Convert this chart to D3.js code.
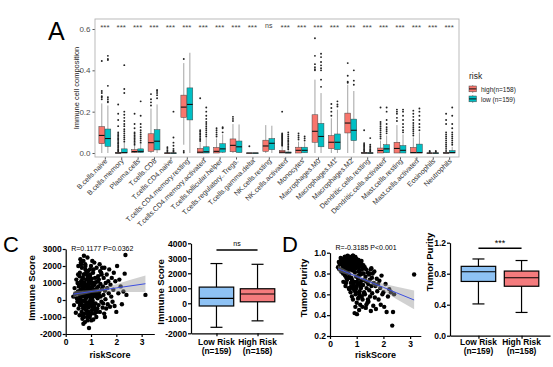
<!DOCTYPE html>
<html>
<head>
<meta charset="utf-8">
<script src="https://cdn.jsdelivr.net/npm/d3@7"></script>
<style>
  body { margin: 0; background: #fff; }
  svg { display: block; }
  text { font-family: Arial, "Liberation Sans", sans-serif; }
</style>
</head>
<body>
<svg id="fig" width="553" height="367"></svg>
<script>
// ---- panel A data: box stats are [lower whisker, q1, median, q3, upper whisker]
const cellTypes = ['B.cells.naive', 'B.cells.memory', 'Plasma.cells', 'T.cells.CD8', 'T.cells.CD4.naive',
    'T.cells.CD4.memory.resting', 'T.cells.CD4.memory.activated', 'T.cells.follicular.helper',
    'T.cells.regulatory..Tregs.', 'T.cells.gamma.delta', 'NK.cells.resting', 'NK.cells.activated',
    'Monocytes', 'Macrophages.M0', 'Macrophages.M1', 'Macrophages.M2', 'Dendritic.cells.resting',
    'Dendritic.cells.activated', 'Mast.cells.resting', 'Mast.cells.activated', 'Eosinophils', 'Neutrophils'];
const sigLabels = ['***', '***', '***', '***', '***', '***', '***', '***', '***', '***', 'ns',
    '***', '***', '***', '***', '***', '***', '***', '***', '***', '***', '***'];
const riskGroups = ['high(n=158)', 'low (n=159)'];
const highStats = [
    [0, 0.045, 0.085, 0.128, 0.24], [0, 0, 0, 0.002, 0.004], [0, 0.002, 0.007, 0.016, 0.036],
    [0, 0.008, 0.05, 0.093, 0.215], [0, 0, 0, 0, 0], [0.04, 0.172, 0.222, 0.28, 0.435],
    [0, 0, 0.004, 0.022, 0.052], [0, 0, 0.008, 0.027, 0.07], [0, 0.006, 0.037, 0.068, 0.14],
    [0, 0, 0, 0, 0], [0, 0.008, 0.034, 0.062, 0.135], [0, 0, 0.004, 0.013, 0.03],
    [0, 0, 0.013, 0.028, 0.055], [0, 0.052, 0.105, 0.185, 0.355], [0, 0.021, 0.052, 0.084, 0.168],
    [0, 0.097, 0.145, 0.193, 0.33], [0, 0, 0, 0.002, 0.004], [0, 0, 0.012, 0.024, 0.06],
    [0, 0, 0.022, 0.052, 0.135], [0, 0, 0.002, 0.027, 0.075], [0, 0, 0, 0, 0], [0, 0, 0, 0.002, 0.004]];
const lowStats = [
    [0, 0.032, 0.07, 0.116, 0.23], [0, 0, 0.002, 0.02, 0.05], [0, 0.002, 0.008, 0.02, 0.045],
    [0, 0.015, 0.057, 0.113, 0.235], [0, 0, 0, 0, 0], [0, 0.16, 0.235, 0.315, 0.485],
    [0, 0, 0.006, 0.03, 0.072], [0, 0.004, 0.02, 0.045, 0.09], [0, 0.002, 0.03, 0.058, 0.138],
    [0, 0, 0, 0, 0], [0, 0.016, 0.047, 0.07, 0.132], [0, 0, 0.001, 0.005, 0.012],
    [0, 0.001, 0.013, 0.028, 0.052], [0, 0.03, 0.08, 0.143, 0.29], [0, 0.016, 0.052, 0.092, 0.21],
    [0, 0.06, 0.11, 0.164, 0.3], [0, 0, 0, 0.001, 0.003], [0, 0.001, 0.02, 0.04, 0.085],
    [0, 0, 0.013, 0.036, 0.09], [0, 0, 0.002, 0.043, 0.1], [0, 0, 0, 0, 0], [0, 0, 0.002, 0.012, 0.03]];
const highOutliers = [
    [0.26, 0.27, 0.275, 0.29, 0.30, 0.445],
    [0.008, 0.012, 0.018, 0.025, 0.03, 0.038, 0.045, 0.05, 0.058, 0.065, 0.07, 0.078, 0.085, 0.092, 0.1, 0.13, 0.16, 0.19, 0.235],
    [0.04, 0.048, 0.055, 0.063, 0.07, 0.078, 0.085, 0.093, 0.1, 0.12, 0.14, 0.19],
    [0.23, 0.245, 0.26, 0.285],
    [0.005, 0.012, 0.02, 0.028],
    [0.455, 0.01, 0.002],
    [0.058, 0.065, 0.072, 0.08, 0.088, 0.095, 0.103, 0.11, 0.265],
    [0.08, 0.09, 0.1, 0.11, 0.12],
    [0.155, 0.165, 0.175],
    [0.033],
    [],
    [0.035, 0.04, 0.045, 0.05, 0.055, 0.06, 0.065, 0.07, 0.075, 0.08, 0.085, 0.09, 0.095, 0.2],
    [0.065, 0.075, 0.085, 0.095],
    [0.4, 0.405, 0.415, 0.43, 0.47, 0.555],
    [0.18, 0.2, 0.218, 0.237],
    [0.34, 0.345, 0.374, 0.435],
    [0.008, 0.013, 0.018, 0.024, 0.03, 0.036, 0.042, 0.048, 0.11],
    [0.07, 0.08, 0.09, 0.1, 0.11, 0.12, 0.13, 0.14, 0.15, 0.22],
    [0.155, 0.17, 0.19, 0.2, 0.21],
    [0.085, 0.095, 0.105, 0.115, 0.125, 0.135, 0.145, 0.16, 0.175, 0.19, 0.205],
    [0.005, 0.01],
    [0.01, 0.02, 0.03, 0.04, 0.05, 0.06, 0.07, 0.08, 0.09, 0.1, 0.14, 0.16, 0.19]];
const lowOutliers = [
    [0.245, 0.25, 0.26, 0.27, 0.325, 0.45, 0.455, 0.47],
    [0.055, 0.065, 0.075, 0.085, 0.095, 0.105, 0.115, 0.13, 0.14, 0.155, 0.17, 0.185, 0.2, 0.29, 0.31, 0.425],
    [0.05, 0.06, 0.07, 0.08, 0.09, 0.1, 0.11, 0.125, 0.14, 0.18, 0.25],
    [0.265, 0.28, 0.29, 0.3, 0.305],
    [0.006, 0.012, 0.02, 0.035, 0.05, 0.075, 0.2],
    [],
    [0.08, 0.09, 0.1, 0.11, 0.12, 0.13, 0.14, 0.15, 0.165, 0.18, 0.2, 0.22],
    [0.1, 0.12, 0.125],
    [],
    [],
    [],
    [0.018, 0.025, 0.032, 0.04, 0.048, 0.055, 0.062, 0.07, 0.08, 0.09, 0.1],
    [0.06, 0.07, 0.08],
    [0.32, 0.355, 0.4, 0.41, 0.424, 0.44, 0.464, 0.48],
    [0.225, 0.235, 0.25],
    [0.33, 0.35, 0.4],
    [0.007, 0.012, 0.018, 0.025, 0.032, 0.04, 0.072],
    [0.095, 0.105, 0.115, 0.125, 0.14, 0.16, 0.2, 0.22],
    [0.1, 0.11, 0.125, 0.14, 0.16, 0.18, 0.2, 0.21],
    [0.11, 0.125, 0.14, 0.16, 0.18, 0.2, 0.215],
    [0.005, 0.01],
    [0.04, 0.05, 0.06, 0.07, 0.08, 0.09, 0.1, 0.12, 0.14, 0.18, 0.22]];

// ---- panels C / D data (one entry per sample)
const riskScore = [
    0.30, 0.33, 0.35, 0.37, 0.40, 0.42, 0.44, 0.46, 0.48, 0.50,
    0.51, 0.52, 0.54, 0.55, 0.56, 0.57, 0.58, 0.59, 0.60, 0.61,
    0.62, 0.63, 0.64, 0.65, 0.66, 0.67, 0.68, 0.69, 0.70, 0.70,
    0.71, 0.72, 0.73, 0.74, 0.75, 0.76, 0.77, 0.78, 0.79, 0.80,
    0.80, 0.81, 0.82, 0.83, 0.84, 0.85, 0.86, 0.87, 0.88, 0.89,
    0.90, 0.90, 0.91, 0.92, 0.93, 0.94, 0.95, 0.96, 0.97, 0.98,
    0.99, 1.00, 1.00, 1.01, 1.02, 1.03, 1.04, 1.05, 1.06, 1.07,
    1.08, 1.09, 1.10, 1.11, 1.12, 1.13, 1.14, 1.15, 1.16, 1.17,
    1.18, 1.19, 1.20, 1.21, 1.22, 1.24, 1.25, 1.26, 1.28, 1.29,
    1.30, 1.31, 1.33, 1.34, 1.35, 1.37, 1.38, 1.40, 1.41, 1.43,
    1.44, 1.46, 1.47, 1.49, 1.50, 1.52, 1.53, 1.55, 1.57, 1.58,
    1.60, 1.62, 1.64, 1.66, 1.68, 1.70, 1.72, 1.75, 1.77, 1.80,
    1.82, 1.85, 1.88, 1.90, 1.93, 1.96, 2.00, 2.03, 2.08, 2.12,
    2.17, 2.22, 2.28, 2.33, 2.36, 2.40, 3.15,
    0.55, 0.63, 0.68, 0.72, 0.76, 0.83, 0.88, 0.94, 1.02, 1.08,
    0.58, 0.66, 0.74, 0.81, 0.86, 0.92, 0.98, 1.05, 1.12, 1.20,
    0.47, 0.61, 0.70, 0.78, 0.85, 0.91, 0.97, 1.03, 1.10, 1.15,
    0.52, 0.57, 0.64, 0.69, 0.73, 0.79, 0.84, 0.89, 0.95, 1.00,
    0.54, 0.60, 0.67, 0.71, 0.77, 0.82, 0.87, 0.93, 0.99, 1.06,
    0.64, 0.72, 0.80, 0.87, 0.96, 1.04, 1.13, 1.23, 1.32, 1.42,
    0.66, 0.75, 0.84, 0.92, 1.01, 1.09, 1.18, 1.27, 1.36, 1.48,
    0.41, 0.49, 0.56, 0.63, 0.78, 0.86, 0.95, 1.14, 1.23, 1.55];
const immuneScore = [
    200, -300, 700, 350, -750, 1200, 100, -100, 500, 2000,
    -500, 900, 300, -900, 1600, 50, 2400, 600, -200, 1100,
    400, -700, 1900, 800, -1100, 200, 1300, -400, 2300, 700,
    -50, 1500, -800, 350, 1000, -1300, 2100, 550, -300, 1200,
    100, -600, 1700, 900, 300, -1000, 2500, 650, -150, 1400,
    450, -450, 1100, -1650, 750, 200, -900, 1800, 0, 1000,
    -250, 600, 2000, -1200, 350, 1250, -600, 850, 150, -50,
    1600, -1150, 500, 900, -400, 2200, 250, -800, 1300, 600,
    -200, 1050, 350, -1000, 1900, 700, -500, 100, 1400, 800,
    -300, 1200, 500, 2100, -700, 950, 200, 1600, -100, 650,
    1900, -450, 800, 300, 1300, -800, 1900, 550, 50, 1000,
    -500, 1500, 700, -250, 1100, 400, 1800, -400, 900, 200,
    1300, -100, 600, 1600, -350, 1100, -700, 2000, 400, 1200,
    800, -250, 500, 1550, 2650, 300, 300,
    1400, -50, 900, 2600, 450, -350, 1700, 300, -800, 1000,
    150, 1250, -450, 800, -1200, 1300, 550, 2300, -250, 400,
    1000, 2100, -1400, 1800, 700, -700, 1500, -150, 1800, -550,
    800, -150, 1100, -500, 1500, 300, -200, 900, -1000, 200,
    500, 2200, -900, 1000, -100, 1600, 400, -300, 1200, 700,
    600, -1000, 150, 1300, 500, -400, 900, -700, 300, 1500,
    -300, 800, 1500, -150, 1000, 300, -600, 1100, 1700, -200,
    400, 1500, -300, 1000, 2000, -800, 1400, 1000, 200, -1000];
const tumorPurity = [
    0.86, 0.91, 0.84, 0.89, 0.95, 0.82, 0.90, 0.93, 0.87, 0.72,
    0.94, 0.85, 0.92, 0.96, 0.78, 0.91, 0.68, 0.88, 0.93, 0.83,
    0.89, 0.95, 0.74, 0.86, 0.97, 0.90, 0.80, 0.93, 0.66, 0.87,
    0.92, 0.79, 0.95, 0.88, 0.84, 0.96, 0.62, 0.88, 0.93, 0.76,
    0.90, 0.94, 0.58, 0.83, 0.89, 0.96, 0.55, 0.86, 0.92, 0.72,
    0.87, 0.95, 0.64, 0.42, 0.81, 0.91, 0.48, 0.60, 0.93, 0.77,
    0.94, 0.68, 0.52, 0.41, 0.88, 0.70, 0.90, 0.75, 0.86, 0.93,
    0.57, 0.45, 0.82, 0.63, 0.91, 0.50, 0.79, 0.87, 0.66, 0.73,
    0.92, 0.58, 0.84, 0.48, 0.55, 0.69, 0.88, 0.80, 0.62, 0.74,
    0.86, 0.60, 0.77, 0.47, 0.84, 0.66, 0.72, 0.52, 0.81, 0.70,
    0.53, 0.79, 0.64, 0.74, 0.58, 0.84, 0.44, 0.68, 0.76, 0.61,
    0.80, 0.49, 0.71, 0.82, 0.57, 0.68, 0.46, 0.75, 0.63, 0.70,
    0.55, 0.73, 0.66, 0.50, 0.78, 0.60, 0.62, 0.48, 0.70, 0.43,
    0.58, 0.65, 0.62, 0.30, 0.43, 0.60, 0.79,
    0.81, 0.90, 0.85, 0.65, 0.91, 0.95, 0.67, 0.87, 0.93, 0.78,
    0.96, 0.83, 0.94, 0.85, 0.97, 0.72, 0.88, 0.56, 0.90, 0.80,
    0.85, 0.76, 0.96, 0.71, 0.84, 0.93, 0.62, 0.91, 0.60, 0.89,
    0.90, 0.94, 0.82, 0.95, 0.76, 0.89, 0.93, 0.83, 0.96, 0.87,
    0.92, 0.71, 0.96, 0.86, 0.91, 0.74, 0.89, 0.94, 0.66, 0.82,
    0.87, 0.96, 0.91, 0.70, 0.85, 0.90, 0.68, 0.86, 0.73, 0.55,
    0.93, 0.85, 0.66, 0.92, 0.72, 0.83, 0.89, 0.61, 0.50, 0.80,
    0.93, 0.80, 0.96, 0.88, 0.67, 0.97, 0.63, 0.71, 0.86, 0.85];

// fitted lines with 95% bands
const fitX = [0.3, 0.6, 1.0, 1.5, 2.0, 2.5, 3.15];
const immuneFit = [345, 410, 495, 602, 710, 817, 957];
const immuneFitLo = [145, 280, 405, 482, 490, 477, 477];
const immuneFitHi = [545, 540, 585, 722, 930, 1157, 1437];
const purityFit = [0.845, 0.814, 0.772, 0.719, 0.667, 0.614, 0.546];
const purityFitLo = [0.815, 0.794, 0.759, 0.699, 0.632, 0.554, 0.456];
const purityFitHi = [0.875, 0.834, 0.785, 0.739, 0.702, 0.674, 0.636];

// group box summaries [min, q1, median, q3, max]
const riskLabels = ['Low Risk', 'High Risk'];
const riskCounts = ['(n=159)', '(n=158)'];
const immuneBox = [[-1600, -180, 330, 1080, 2650], [-1170, 100, 620, 970, 2600]];
const purityBox = [[0.41, 0.70, 0.825, 0.895, 0.99], [0.30, 0.638, 0.748, 0.834, 0.97]];

const svg = d3.select('#fig');
const RED = '#F8766D', TEAL = '#00BFC4';

// ================= Panel A =================
const xA = d3.scalePoint().domain(cellTypes).range([95, 459]).padding(0.6);
const yA = d3.scaleLinear().domain([0, 0.6]).range([153, 29]);

svg.append('text').attr('x', 48).attr('y', 40).attr('font-size', 25).text('A');

svg.append('g').attr('transform', 'translate(95,0)')
    .call(d3.axisLeft(yA).tickValues([0, 0.2, 0.4, 0.6]).tickFormat(d3.format('.1f')).tickSize(2.5).tickPadding(2))
    .call(g => g.select('.domain').remove())
    .call(g => g.selectAll('.tick line').attr('stroke', '#555'))
    .call(g => g.selectAll('text').attr('font-size', 8).attr('fill', '#4d4d4d'));

svg.append('g').attr('transform', 'translate(0,157)')
    .call(d3.axisBottom(xA).tickSize(2.5).tickFormat(''))
    .call(g => g.select('.domain').remove())
    .call(g => g.selectAll('.tick line').attr('stroke', '#555'));

svg.append('text').attr('transform', 'translate(79,88) rotate(-90)').attr('text-anchor', 'middle')
    .attr('font-size', 7.5).attr('fill', '#222').text('Immune cell composition');

svg.append('g').selectAll('text').data(cellTypes).join('text')
    .attr('transform', d => `translate(${xA(d) + 3},161.5) rotate(-45)`)
    .attr('text-anchor', 'end').attr('font-size', 7.1).attr('fill', '#333').text(d => d);

svg.append('g').selectAll('text').data(sigLabels).join('text')
    .attr('x', (d, i) => xA(cellTypes[i])).attr('y', (d) => d === 'ns' ? 27.5 : 30)
    .attr('text-anchor', 'middle').attr('font-size', d => d === 'ns' ? 7 : 8).attr('fill', '#444').text(d => d);

function drawSmallBoxes(stats, outliers, offset, color) {
    const bw = 5.8;
    const g = svg.append('g');
    stats.forEach((s, i) => {
        const cx = xA(cellTypes[i]) + offset;
        g.append('line').attr('x1', cx).attr('x2', cx).attr('y1', yA(s[0])).attr('y2', yA(s[4]))
            .attr('stroke', '#666').attr('stroke-width', 0.6);
        g.append('rect').attr('x', cx - bw / 2).attr('width', bw)
            .attr('y', yA(s[3])).attr('height', Math.max(0.6, yA(s[1]) - yA(s[3])))
            .attr('fill', color).attr('stroke', '#444').attr('stroke-width', 0.5);
        g.append('line').attr('x1', cx - bw / 2).attr('x2', cx + bw / 2).attr('y1', yA(s[2])).attr('y2', yA(s[2]))
            .attr('stroke', '#111').attr('stroke-width', 1.1);
        g.selectAll(null).data(outliers[i]).join('circle')
            .attr('cx', cx).attr('cy', d => yA(d)).attr('r', 0.95).attr('fill', '#222');
    });
}
drawSmallBoxes(highStats, highOutliers, -3.05, RED);
drawSmallBoxes(lowStats, lowOutliers, 3.05, TEAL);

svg.append('rect').attr('x', 95).attr('y', 19).attr('width', 364).attr('height', 138)
    .attr('fill', 'none').attr('stroke', '#b3b3b3').attr('stroke-width', 0.9);

// legend
const leg = svg.append('g').attr('transform', 'translate(469,0)');
leg.append('text').attr('x', 0).attr('y', 79).attr('font-size', 8.5).attr('fill', '#222').text('risk');
riskGroups.forEach((lab, i) => {
    const y0 = 86 + i * 10;
    leg.append('line').attr('x1', 3.7).attr('x2', 3.7).attr('y1', y0 - 1).attr('y2', y0 + 7).attr('stroke', '#666').attr('stroke-width', 0.6);
    leg.append('rect').attr('x', 0).attr('y', y0).attr('width', 7.4).attr('height', 5.8)
        .attr('fill', i === 0 ? RED : TEAL).attr('stroke', '#444').attr('stroke-width', 0.5);
    leg.append('line').attr('x1', 0).attr('x2', 7.4).attr('y1', y0 + 2.9).attr('y2', y0 + 2.9).attr('stroke', '#111').attr('stroke-width', 1);
    leg.append('text').attr('x', 12).attr('y', y0 + 5.6).attr('font-size', 6.5).attr('fill', '#222').text(lab);
});

// ================= helpers for C / D =================
function styleAxis(g) {
    g.select('.domain').attr('stroke', '#000').attr('stroke-width', 1.2);
    g.selectAll('.tick line').attr('stroke', '#000').attr('stroke-width', 1.2);
    g.selectAll('text').attr('font-size', 8.5).attr('font-weight', 'bold').attr('fill', '#000');
}
function yTitle(x, y, label) {
    svg.append('text').attr('transform', `translate(${x},${y}) rotate(-90)`).attr('text-anchor', 'middle')
        .attr('font-size', 9.5).attr('font-weight', 'bold').text(label);
}

function scatterPanel(opts) {
    const x = d3.scaleLinear().domain(opts.xDomain).range(opts.xRange);
    const y = d3.scaleLinear().domain(opts.yDomain).range(opts.yRange);
    const g = svg.append('g');
    g.selectAll('circle').data(riskScore).join('circle')
        .attr('cx', d => x(d)).attr('cy', (d, i) => y(opts.values[i])).attr('r', 2.2).attr('fill', '#000');
    const idx = d3.range(fitX.length);
    g.append('path').datum(idx)
        .attr('d', d3.area().x(i => x(fitX[i])).y0(i => y(opts.lo[i])).y1(i => y(opts.hi[i])))
        .attr('fill', '#999').attr('fill-opacity', 0.45);
    g.append('path').datum(idx)
        .attr('d', d3.line().x(i => x(fitX[i])).y(i => y(opts.fit[i])))
        .attr('fill', 'none').attr('stroke', '#3d4fe0').attr('stroke-width', 1);
    svg.append('g').attr('transform', `translate(0,${opts.yRange[0]})`)
        .call(d3.axisBottom(x).tickValues([0, 1, 2, 3]).tickFormat(d3.format('d')).tickSize(3).tickSizeOuter(0).tickPadding(2)).call(styleAxis);
    svg.append('g').attr('transform', `translate(${opts.xRange[0]},0)`)
        .call(d3.axisLeft(y).tickValues(opts.yTicks).tickFormat(opts.fmt).tickSize(3).tickSizeOuter(0).tickPadding(1)).call(styleAxis);
    svg.append('text').attr('x', (opts.xRange[0] + opts.xRange[1]) / 2).attr('y', 358).attr('text-anchor', 'middle')
        .attr('font-size', 9).attr('font-weight', 'bold').text('riskScore');
    svg.append('text').attr('x', opts.xRange[0] + 5.5).attr('y', opts.statY).attr('font-size', 7).text(opts.stat);
}

function boxPanel(opts) {
    const x = d3.scalePoint().domain(riskLabels).range(opts.xRange).padding(opts.pad);
    const y = d3.scaleLinear().domain(opts.yDomain).range(opts.yRange);
    const bw = 34.5, cap = 12;
    const g = svg.append('g');
    opts.stats.forEach((s, i) => {
        const cx = x(riskLabels[i]);
        g.append('line').attr('x1', cx).attr('x2', cx).attr('y1', y(s[0])).attr('y2', y(s[4])).attr('stroke', '#000').attr('stroke-width', 1.2);
        [s[0], s[4]].forEach(v => g.append('line').attr('x1', cx - cap / 2).attr('x2', cx + cap / 2)
            .attr('y1', y(v)).attr('y2', y(v)).attr('stroke', '#000').attr('stroke-width', 1.2));
        g.append('rect').attr('x', cx - bw / 2).attr('width', bw).attr('y', y(s[3])).attr('height', y(s[1]) - y(s[3]))
            .attr('fill', i === 0 ? '#8EC2F4' : '#F47B7D').attr('stroke', '#000').attr('stroke-width', 1.2);
        g.append('line').attr('x1', cx - bw / 2).attr('x2', cx + bw / 2).attr('y1', y(s[2])).attr('y2', y(s[2]))
            .attr('stroke', '#000').attr('stroke-width', 1.2);
        g.append('text').attr('x', cx).attr('y', 345).attr('text-anchor', 'middle').attr('font-size', 8.4).attr('font-weight', 'bold').text(riskLabels[i]);
        g.append('text').attr('x', cx).attr('y', 353.5).attr('text-anchor', 'middle').attr('font-size', 8.4).attr('font-weight', 'bold').text(riskCounts[i]);
    });
    svg.append('g').attr('transform', `translate(0,${opts.yRange[0]})`)
        .call(d3.axisBottom(x).tickSize(3).tickSizeOuter(0).tickFormat('')).call(styleAxis);
    svg.append('g').attr('transform', `translate(${opts.xRange[0]},0)`)
        .call(d3.axisLeft(y).tickValues(opts.yTicks).tickFormat(opts.fmt).tickSize(3).tickSizeOuter(0).tickPadding(1)).call(styleAxis);
    const x1 = x(riskLabels[0]), x2 = x(riskLabels[1]);
    svg.append('line').attr('x1', x1).attr('x2', x2).attr('y1', opts.sigY).attr('y2', opts.sigY).attr('stroke', '#000').attr('stroke-width', 1.5);
    svg.append('text').attr('x', (x1 + x2) / 2).attr('y', opts.sigY - (opts.sig === 'ns' ? 4 : 2.5)).attr('text-anchor', 'middle')
        .attr('font-size', opts.sig === 'ns' ? 7 : 9).text(opts.sig);
}

// ================= Panel C =================
svg.append('text').attr('x', 3).attr('y', 252).attr('font-size', 22).text('C');
scatterPanel({
    xDomain: [0, 3.5], xRange: [65.7, 154.3], yDomain: [-2000, 3000], yRange: [334, 249],
    values: immuneScore, fit: immuneFit, lo: immuneFitLo, hi: immuneFitHi,
    yTicks: [-2000, -1000, 0, 1000, 2000, 3000], fmt: d => String(d),
    stat: 'R=0.1177 P=0.0362', statY: 251
});
yTitle(35, 288, 'Immune Score');
boxPanel({
    xRange: [191, 283], pad: 0.62, yDomain: [-2000, 4000], yRange: [333.3, 243.3],
    stats: immuneBox, yTicks: [-2000, -1000, 0, 1000, 2000, 3000, 4000], fmt: d => String(d),
    sig: 'ns', sigY: 250
});
yTitle(163.5, 292, 'Immune Score');

// ================= Panel D =================
svg.append('text').attr('x', 282).attr('y', 252).attr('font-size', 22).text('D');
scatterPanel({
    xDomain: [0, 3.4], xRange: [330, 420.8], yDomain: [0.2, 1.0], yRange: [336, 252.7],
    values: tumorPurity, fit: purityFit, lo: purityFitLo, hi: purityFitHi,
    yTicks: [0.2, 0.4, 0.6, 0.8, 1.0], fmt: d3.format('.1f'),
    stat: 'R=-0.3185 P<0.001', statY: 250
});
yTitle(307, 288, 'Tumor Purity');
boxPanel({
    xRange: [450, 550], pad: 0.66, yDomain: [0, 1.2], yRange: [335.7, 242.7],
    stats: purityBox, yTicks: [0, 0.4, 0.8, 1.2], fmt: d3.format('.1f'),
    sig: '***', sigY: 248.3
});
yTitle(433, 262, 'Tumor Purity');
</script>
</body>
</html>
